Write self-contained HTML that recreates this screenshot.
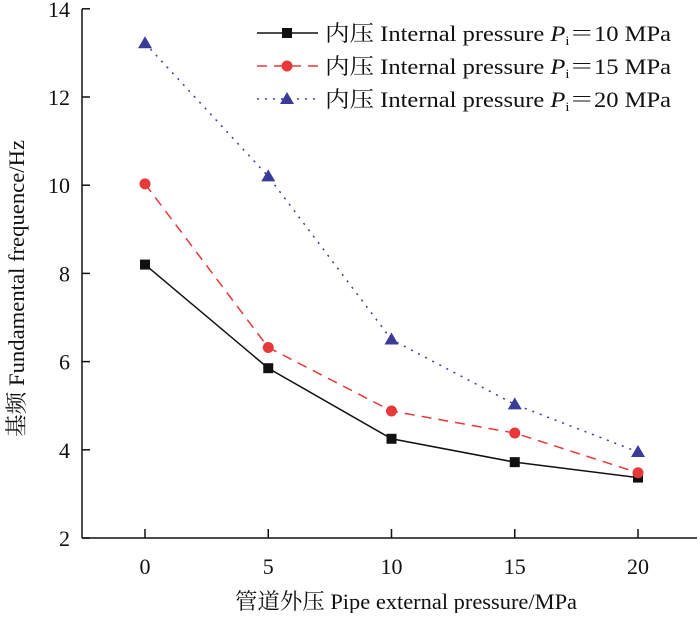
<!DOCTYPE html>
<html><head><meta charset="utf-8"><style>
body{margin:0;background:#fff}
svg text{font-family:"Liberation Serif","Noto Serif CJK SC",serif;fill:#111}
</style></head><body>
<svg id="chart" width="700" height="613" xmlns="http://www.w3.org/2000/svg">
<g id="axes"></g><g id="series"></g><g id="legend"></g>
</svg>
<script>
const categories=[0,5,10,15,20];
const s10=[8.2,5.85,4.25,3.72,3.37];
const s15=[10.03,6.32,4.88,4.38,3.48];
const s20=[13.22,10.2,6.5,5.03,3.95];
const yTicks=[2,4,6,8,10,12,14];
const xTicks=[0,5,10,15,20];
const names=["内压 Internal pressure ","内压 Internal pressure ","内压 Internal pressure "];
const pvals=["10","15","20"];
const NS="http://www.w3.org/2000/svg";
const X=v=>145+v*24.65;
const Y=v=>538-(v-2)*44.1;
function el(t,a,p){const e=document.createElementNS(NS,t);for(const k in a)e.setAttribute(k,a[k]);p.appendChild(e);return e;}
const ax=document.getElementById('axes');
let l=el('line',{x1:82,y1:538,x2:697,y2:538,stroke:'#111','stroke-width':1.5},ax);


l=el('line',{x1:82,y1:538,x2:82,y2:9,stroke:'#111','stroke-width':1.5},ax);


yTicks.forEach(v=>{
 el('line',{x1:82,y1:Y(v),x2:90,y2:Y(v),stroke:'#111','stroke-width':1.5},ax);
 const t=el('text',{x:70,y:Y(v)+8,'text-anchor':'end','font-size':22},ax);t.textContent=v;
 
 
});
xTicks.forEach(v=>{
 el('line',{x1:X(v),y1:538,x2:X(v),y2:529,stroke:'#111','stroke-width':1.5},ax);
 const t=el('text',{x:X(v),y:574,'text-anchor':'middle','font-size':22},ax);t.textContent=v;
 
 
});
let t=el('text',{x:235,y:609,'font-size':22,textLength:342,lengthAdjust:'spacingAndGlyphs'},ax);t.textContent='管道外压 Pipe external pressure/MPa';


t=el('text',{x:0,y:0,'font-size':22,textLength:297,lengthAdjust:'spacingAndGlyphs',transform:'translate(24 437) rotate(-90)'},ax);t.textContent='基频 Fundamental frequence/Hz';


const cfg=[{d:s10,c:'#111',dash:'',m:'sq'},{d:s15,c:'#e8383a',dash:'10 7',m:'ci'},{d:s20,c:'#3b3b9a',dash:'2 6',m:'tr'}];
const sg=document.getElementById('series');
function marker(type,x,y,c,p){
 if(type=='sq')return el('rect',{x:x-5,y:y-5,width:10,height:10,fill:c},p);
 if(type=='ci')return el('circle',{cx:x,cy:y,r:5.5,fill:c},p);
 return el('polygon',{points:`${x},${y-7} ${x-7},${y+5} ${x+7},${y+5}`,fill:c},p);
}
cfg.forEach((s,i)=>{
 const pl=el('polyline',{points:s.d.map((v,j)=>X(categories[j])+','+Y(v)).join(' '),fill:'none',stroke:s.c,'stroke-width':1.5,'stroke-dasharray':s.dash},sg);
 
 
 s.d.forEach((v,j)=>{const m=marker(s.m,X(categories[j]),Y(v),s.c,sg);
  
  });
 const lg=document.getElementById('legend');
 const y=33+i*33;
 const g=el('g',{},lg);
 
 
 el('line',{x1:257,y1:y,x2:318,y2:y,stroke:s.c,'stroke-width':1.5,'stroke-dasharray':s.dash},g);
 marker(s.m,287,y,s.c,g);
 const tx=el('text',{x:325,y:y+8,'font-size':22,textLength:346,lengthAdjust:'spacingAndGlyphs'},g);
 tx.innerHTML=names[i]+'<tspan font-style="italic">P</tspan><tspan font-size="13" dy="4">i</tspan><tspan dy="-4">＝'+pvals[i]+' MPa</tspan>';
});
</script>
</body></html>
